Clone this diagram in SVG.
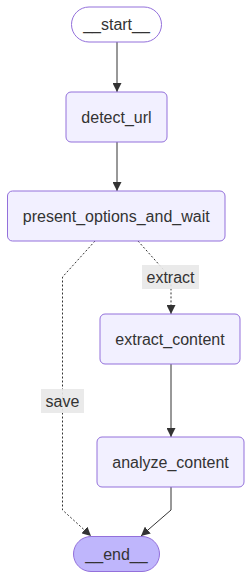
<svg xmlns="http://www.w3.org/2000/svg" width="252" height="579" viewBox="0 0 252 579">
<style>
.node rect{fill:#f2f0ff;stroke:#9370DB;stroke-width:1}
.node.term rect{fill:#fff}
.node.endn rect{fill:#bfb6fc}
text{font-family:"Liberation Sans",Arial,sans-serif;font-size:16px;fill:#333;text-anchor:middle;dominant-baseline:central}
.edge{fill:none;stroke:#333;stroke-width:1}
.dash{stroke-dasharray:2,2}
.lbl rect{fill:#e8e8e8;fill-opacity:0.9}
</style>
<defs>
<marker id="arr" viewBox="0 0 10 10" refX="10" refY="5" markerUnits="userSpaceOnUse" markerWidth="9" markerHeight="9" orient="auto">
<path d="M0,0 L10,5 L0,10 z" fill="#333"/>
</marker>
</defs>
<rect width="252" height="579" fill="#fff"/>
<g id="edges">
<path class="edge" d="M117,42 L117,92" marker-end="url(#arr)"/>
<path class="edge" d="M117,142 L117,191" marker-end="url(#arr)"/>
<path class="edge dash" d="M138,241 L171,278 L171,314" marker-end="url(#arr)"/>
<path class="edge dash" d="M95,241 L62.5,277 L62.5,510 L91,536" marker-end="url(#arr)"/>
<path class="edge" d="M171,364 L171,437" marker-end="url(#arr)"/>
<path class="edge" d="M171,487 L171,510 L141,536" marker-end="url(#arr)"/>
<g class="lbl" id="lbl-extract"><rect x="142" y="265" width="57" height="24"/><text x="170.5" y="277">extract</text></g>
<g class="lbl" id="lbl-save"><rect x="41" y="389" width="43" height="24"/><text x="62.5" y="401">save</text></g>
</g>
<g id="start" class="node term"><rect x="71.5" y="7" width="90" height="35" rx="17.5"/><text x="116.5" y="24.5">__start__</text></g>
<g id="detect_url" class="node"><rect x="66" y="92" width="101" height="50" rx="5"/><text x="116.5" y="117">detect_url</text></g>
<g id="present_options_and_wait" class="node"><rect x="7.5" y="191" width="217.5" height="50" rx="5"/><text x="116.25" y="216">present_options_and_wait</text></g>
<g id="extract_content" class="node"><rect x="100" y="314" width="140" height="50" rx="5"/><text x="170" y="339">extract_content</text></g>
<g id="analyze_content" class="node"><rect x="97" y="437" width="147" height="50" rx="5"/><text x="170.5" y="462">analyze_content</text></g>
<g id="end" class="node endn"><rect x="73.5" y="536.5" width="86" height="35" rx="17.5"/><text x="116.5" y="554">__end__</text></g>
</svg>
